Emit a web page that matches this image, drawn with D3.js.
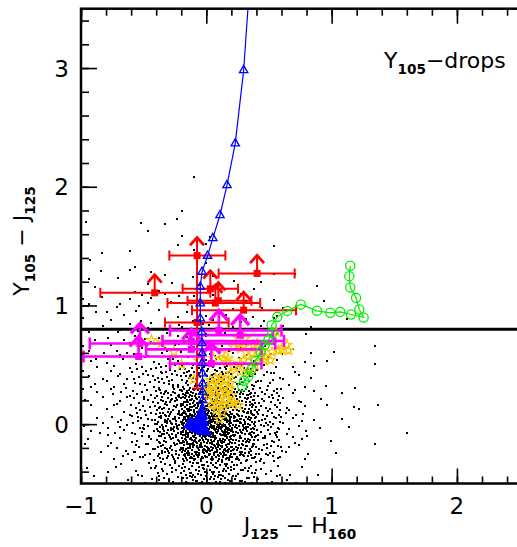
<!DOCTYPE html>
<html>
<head>
<meta charset="utf-8">
<script src="https://cdn.jsdelivr.net/npm/d3@7"></script>
<style>
body { margin: 0; background: #fff; }
svg { display: block; font-family: "DejaVu Sans", sans-serif; }
</style>
</head>
<body>
<div id="chart"></div>
<script>
// Set up the SVG and dimensions
const width = 517;
const height = 547;

// tick values and labels
const xMajorTicks = [-1, 0, 1, 2];
const xTickLabels = ["\u22121", "0", "1", "2"];
const yMajorTicks = [0, 1, 2, 3];
const yTickLabels = ["0", "1", "2", "3"];
const xMinorTicks = d3.range(-1, 2.51, 0.2);
const yMinorTicks = d3.range(-0.4, 3.5, 0.2);

// selection cut
const cutY = 0.8;

// field galaxies: too dense to read dot by dot, so counts per 0.2 x 0.2 cell
// (rows bottom to top from y=-0.5, columns from x=-1)
const cloudX0 = -1, cloudY0 = -0.5, cloudCell = 0.2;
const cloudCounts = [
  [2, 4, 9, 22, 42, 45, 28, 12, 4, 1, 0, 0, 0],
  [3, 8, 18, 45, 90, 95, 60, 24, 8, 2, 1, 0, 0],
  [5, 10, 22, 58, 125, 130, 75, 30, 10, 3, 2, 0, 1],
  [5, 10, 20, 45, 85, 90, 60, 26, 8, 3, 2, 1, 0],
  [6, 10, 16, 26, 38, 40, 30, 15, 6, 3, 1, 0, 0],
  [5, 7, 9, 11, 12, 12, 9, 6, 3, 2, 1, 1, 0],
  [4, 6, 6, 6, 6, 5, 5, 4, 2, 1, 1, 0, 0],
  [4, 5, 5, 5, 4, 3, 4, 3, 1, 1, 0, 0, 0],
  [3, 2, 3, 3, 2, 2, 2, 2, 1, 1, 0, 0, 0],
  [2, 1, 1, 0, 2, 0, 0, 1, 0, 0, 0, 0, 0],
  [0, 0, 2, 2, 2, 1, 0, 0, 0, 0, 0, 0, 0],
  [1, 0, 0, 1, 1, 0, 0, 0, 0, 0, 0, 0, 0],
  [0, 0, 0, 0, 1, 0, 0, 0, 0, 0, 0, 0, 0]
];
const cloudOutliers = [[1.35, -0.17], [1.35, 0.51], [1.22, 0.13]];

// model tracks
const blueTrack = [
  [-0.03, 0.062], [-0.03, 0.132], [-0.03, 0.202], [-0.03, 0.272], [-0.03, 0.343],
  [-0.03, 0.427], [-0.034, 0.514], [-0.034, 0.598], [-0.034, 0.682], [-0.036, 0.775],
  [-0.048, 0.89], [-0.048, 1.017], [-0.048, 1.157], [-0.034, 1.283], [0.01, 1.418],
  [0.052, 1.567], [0.109, 1.76], [0.165, 2.013], [0.231, 2.365], [0.298, 2.982], [0.34, 3.62]
];
const blueBlob = [
  [-0.13, 0.0], [-0.11, -0.01], [-0.09, -0.02], [-0.07, -0.03], [-0.05, -0.04],
  [-0.03, -0.05], [-0.01, -0.06], [-0.08, 0.01], [-0.05, 0.0], [-0.03, 0.02],
  [-0.06, 0.04], [-0.04, 0.08]
];
const greenTrack = [
  [0.287, 0.32], [0.301, 0.365], [0.335, 0.404], [0.359, 0.461], [0.393, 0.533],
  [0.433, 0.609], [0.465, 0.666], [0.495, 0.708], [0.527, 0.769], [0.521, 0.834],
  [0.567, 0.904], [0.646, 0.954], [0.754, 1.009], [0.883, 0.955], [0.99, 0.938],
  [1.069, 0.946], [1.155, 0.924], [1.255, 0.899], [1.221, 0.966], [1.195, 1.064],
  [1.149, 1.152], [1.141, 1.247], [1.149, 1.334]
];

// candidates: [x, y, xlo, xhi, lower limit arrow]
const redPoints = [
  [-0.074, 1.42, -0.295, 0.152, true],
  [0.405, 1.27, 0.098, 0.705, true],
  [0.032, 1.14, -0.189, 0.253, true],
  [0.072, 1.02, -0.31, 0.43, true],
  [0.096, 1.04, -0.15, 0.36, true],
  [0.298, 0.96, -0.114, 0.716, true],
  [-0.412, 1.106, -0.846, 0.032, true],
  [-0.074, 0.857, -0.33, 0.178, false]
];
// vertical error of the red point at x=-0.074: [x, ylo, yhi]
const redYErr = [[-0.074, 0.30, 1.42]];
const magentaPoints = [
  [-0.53, 0.68, -0.93, 0.55, true],
  [-0.54, 0.57, -0.98, -0.02, true],
  [-0.12, 0.63, -0.48, 0.44, true],
  [0.10, 0.79, -0.29, 0.60, true],
  [0.27, 0.75, -0.13, 0.53, true],
  [0.04, 0.51, -0.29, 0.44, true],
  [-0.12, 0.70, -0.35, 0.62, false]
];
const yellowPoints = [
  [-0.437, 0.708], [-0.357, 0.688], [-0.258, 0.609], [-0.197, 0.503], [-0.098, 0.377],
  [-0.058, 0.533], [0.559, 0.778], [0.218, 0.651], [0.258, 0.722], [0.311, 0.722],
  [0.298, 0.651], [0.377, 0.666], [0.405, 0.68], [0.445, 0.623], [0.365, 0.596],
  [0.338, 0.567], [0.298, 0.539], [0.271, 0.511], [0.218, 0.483], [0.165, 0.525],
  [0.125, 0.596], [0.058, 0.553], [0.138, 0.539], [0.524, 0.609], [0.577, 0.623],
  [0.644, 0.666], [0.657, 0.623], [0.511, 0.539], [0.471, 0.567], [0.431, 0.567],
  [0.391, 0.497], [0.338, 0.441], [0.271, 0.441], [0.192, 0.427], [0.601, 0.629],
  [0.173, 0.553], [0.274, 0.638], [0.46, 0.539],
  [0.032, 0.371], [0.072, 0.388], [0.112, 0.396], [0.152, 0.371], [0.192, 0.345],
  [0.048, 0.329], [0.096, 0.337], [0.144, 0.32], [0.184, 0.295], [0.024, 0.286],
  [0.064, 0.278], [0.112, 0.27], [0.16, 0.261], [0.2, 0.244], [0.016, 0.236],
  [0.056, 0.219], [0.104, 0.211], [0.152, 0.202], [0.04, 0.168], [0.088, 0.16],
  [0.136, 0.168], [0.192, 0.177], [0.08, 0.118], [0.255, 0.16], [0.104, 0.042],
  [0.215, 0.185], [0.128, 0.101], [0.008, 0.303]
];

const x = d3.scaleLinear().domain([-1, 2.5]).range([81, 519.6]);
const y = d3.scaleLinear().domain([-0.5, 3.5]).range([483.5, 8.7]);

const svg = d3.select("#chart").append("svg")
    .attr("width", width)
    .attr("height", height);

svg.append("clipPath").attr("id", "clip")
  .append("rect")
    .attr("x", x(-1)).attr("y", y(3.5))
    .attr("width", x(2.5) - x(-1)).attr("height", y(-0.5) - y(3.5));

const plot = svg.append("g").attr("clip-path", "url(#clip)");

// evenly spread positions inside a cell (Halton sequence)
function halton(i, b) {
    let f = 1, r = 0;
    while (i > 0) { f /= b; r += f * (i % b); i = Math.floor(i / b); }
    return r;
}
const cloud = [];
cloudCounts.forEach((row, ri) => {
    row.forEach((n, ci) => {
        const off = (ri * 13 + ci) * 37 + 1;
        for (let k = 0; k < n; k++) {
            cloud.push([
                cloudX0 + (ci + halton(off + k, 2)) * cloudCell,
                cloudY0 + (ri + halton(off + k, 3)) * cloudCell
            ]);
        }
    });
});
cloudOutliers.forEach(d => cloud.push(d));

// Draw field dots
plot.append("g").selectAll("rect")
    .data(cloud)
    .enter()
    .append("rect")
    .attr("x", d => Math.round(x(d[0])) - 1)
    .attr("y", d => Math.round(y(d[1])) - 1)
    .attr("width", 2)
    .attr("height", 2)
    .attr("fill", "#000");

// selection line
plot.append("line")
    .attr("x1", x(-1)).attr("x2", x(2.5))
    .attr("y1", y(cutY)).attr("y2", y(cutY))
    .attr("stroke", "#000").attr("stroke-width", 3);

// yellow stars
const star = d3.symbol().type(d3.symbolStar).size(30);
plot.append("g").selectAll("path")
    .data(yellowPoints)
    .enter()
    .append("path")
    .attr("d", star)
    .attr("transform", d => `translate(${x(d[0])},${y(d[1])})`)
    .attr("fill", "none")
    .attr("stroke", "#f7c600")
    .attr("stroke-width", 1.2);

// candidates with error bars and arrows
function drawCandidates(data, color, cap, arrowLen, head, lw) {
    const g = plot.append("g").attr("stroke", color).attr("stroke-width", lw).attr("fill", "none");
    data.forEach(d => {
        const px = x(d[0]), py = y(d[1]);
        g.append("line").attr("x1", x(d[2])).attr("x2", x(d[3])).attr("y1", py).attr("y2", py);
        g.append("line").attr("x1", x(d[2])).attr("x2", x(d[2])).attr("y1", py - cap).attr("y2", py + cap);
        g.append("line").attr("x1", x(d[3])).attr("x2", x(d[3])).attr("y1", py - cap).attr("y2", py + cap);
        if (d[4]) {
            g.append("line").attr("x1", px).attr("x2", px).attr("y1", py).attr("y2", py - arrowLen);
            g.append("path")
                .attr("d", `M${px - head},${py - arrowLen + head * 1.1}L${px},${py - arrowLen}L${px + head},${py - arrowLen + head * 1.1}`)
                .attr("stroke-width", lw + 0.8);
        }
        g.append("rect")
            .attr("x", px - 3.5).attr("y", py - 3.5)
            .attr("width", 7).attr("height", 7)
            .attr("fill", color).attr("stroke", "none");
    });
}

const redErr = plot.append("g").attr("stroke", "#ff0000").attr("stroke-width", 2);
redYErr.forEach(d => {
    redErr.append("line").attr("x1", x(d[0])).attr("x2", x(d[0])).attr("y1", y(d[1])).attr("y2", y(d[2]));
    redErr.append("line").attr("x1", x(d[0]) - 5).attr("x2", x(d[0]) + 5).attr("y1", y(d[1])).attr("y2", y(d[1]));
});
drawCandidates(redPoints, "#ff0000", 5, 18, 7, 2);
drawCandidates(magentaPoints, "#ff00ff", 6, 20, 9, 2.6);

// blue track
const line = d3.line().x(d => x(d[0])).y(d => y(d[1]));
plot.append("path")
    .datum(blueBlob.slice(0, 1).concat(blueTrack))
    .attr("d", line)
    .attr("fill", "none")
    .attr("stroke", "#0000ff")
    .attr("stroke-width", 1.2);
const tri = d3.symbol().type(d3.symbolTriangle).size(30);
plot.append("g").selectAll("path")
    .data(blueTrack)
    .enter()
    .append("path")
    .attr("d", tri)
    .attr("transform", d => `translate(${x(d[0])},${y(d[1])})`)
    .attr("fill", "none")
    .attr("stroke", "#0000ff")
    .attr("stroke-width", 1.3);
plot.append("g").selectAll("path")
    .data(blueBlob)
    .enter()
    .append("path")
    .attr("d", d3.symbol().type(d3.symbolTriangle).size(60))
    .attr("transform", d => `translate(${x(d[0])},${y(d[1])})`)
    .attr("fill", "#0000ff")
    .attr("stroke", "#0000ff")
    .attr("stroke-width", 1.3);

// green track
plot.append("path")
    .datum(greenTrack)
    .attr("d", line)
    .attr("fill", "none")
    .attr("stroke", "#00ee00")
    .attr("stroke-width", 1.2);
plot.append("g").selectAll("circle")
    .data(greenTrack)
    .enter()
    .append("circle")
    .attr("cx", d => x(d[0]))
    .attr("cy", d => y(d[1]))
    .attr("r", 4.6)
    .attr("fill", "none")
    .attr("stroke", "#00ee00")
    .attr("stroke-width", 1.3);

// Axes: ticks point inwards
function styleAxis(g) {
    g.select(".domain").remove();
    g.selectAll("line").attr("stroke", "#000").attr("stroke-width", 1.6);
}
const y0 = y(-0.5), y1 = y(3.5), x0 = x(-1), x1 = x(2.5);
svg.append("g").attr("transform", `translate(0,${y0})`)
    .call(d3.axisBottom(x).tickValues(xMinorTicks).tickSize(-7).tickFormat("")).call(styleAxis);
svg.append("g").attr("transform", `translate(0,${y0})`)
    .call(d3.axisBottom(x).tickValues(xMajorTicks).tickSize(-15).tickFormat("")).call(styleAxis);
svg.append("g").attr("transform", `translate(0,${y1})`)
    .call(d3.axisTop(x).tickValues(xMinorTicks).tickSize(-7).tickFormat("")).call(styleAxis);
svg.append("g").attr("transform", `translate(0,${y1})`)
    .call(d3.axisTop(x).tickValues(xMajorTicks).tickSize(-15).tickFormat("")).call(styleAxis);
svg.append("g").attr("transform", `translate(${x0},0)`)
    .call(d3.axisLeft(y).tickValues(yMinorTicks).tickSize(-8).tickFormat("")).call(styleAxis);
svg.append("g").attr("transform", `translate(${x0},0)`)
    .call(d3.axisLeft(y).tickValues(yMajorTicks).tickSize(-16).tickFormat("")).call(styleAxis);

// frame
svg.append("rect")
    .attr("x", x0).attr("y", y1)
    .attr("width", x1 - x0).attr("height", y0 - y1)
    .attr("fill", "none").attr("stroke", "#000").attr("stroke-width", 2.5);

// tick labels
svg.append("g").selectAll("text")
    .data(xMajorTicks)
    .enter()
    .append("text")
    .attr("x", d => x(d))
    .attr("y", 514)
    .attr("text-anchor", "middle")
    .attr("font-size", 23)
    .text((d, i) => xTickLabels[i]);
svg.append("g").selectAll("text")
    .data(yMajorTicks)
    .enter()
    .append("text")
    .attr("x", 69)
    .attr("y", d => y(d) + 8.5)
    .attr("text-anchor", "end")
    .attr("font-size", 23)
    .text((d, i) => yTickLabels[i]);

// text with subscripts
function subText(sel, parts, size) {
    parts.forEach(p => {
        const t = sel.append("tspan").text(p[0]);
        if (p[1]) t.attr("font-size", size * 0.62).attr("font-weight", "bold").attr("dy", 6);
        else if (p[2]) t.attr("dy", -6);
    });
}
const xl = svg.append("text")
    .attr("x", 300).attr("y", 533)
    .attr("text-anchor", "middle")
    .attr("font-size", 22);
subText(xl, [["J"], ["125", true], ["  \u2212  H", false, true], ["160", true]], 22);

const yl = svg.append("text")
    .attr("transform", "translate(29,241) rotate(-90)")
    .attr("text-anchor", "middle")
    .attr("font-size", 22);
subText(yl, [["Y"], ["105", true], ["  \u2212  J", false, true], ["125", true]], 22);

const title = svg.append("text")
    .attr("x", 384).attr("y", 68)
    .attr("font-size", 22);
subText(title, [["Y"], ["105", true], ["\u2212drops", false, true]], 22);
</script>
</body>
</html>
